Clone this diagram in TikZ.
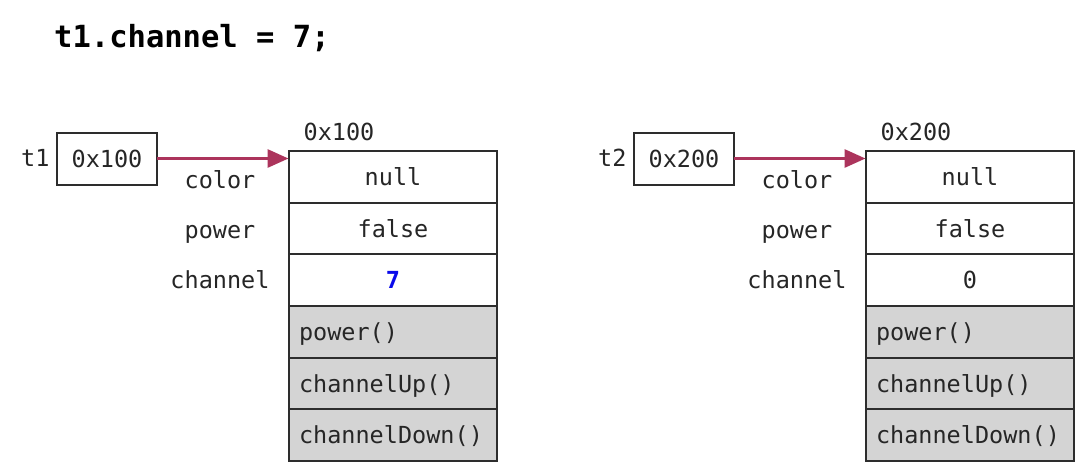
\documentclass[tikz,border=0pt]{standalone}
\usepackage{fontspec}
\setmonofont{DejaVu Sans Mono}
\usetikzlibrary{arrows.meta,positioning}
\definecolor{ptrcol}{RGB}{172,52,92}
\definecolor{cellgray}{RGB}{212,212,212}
\definecolor{edgecol}{RGB}{45,45,45}
\definecolor{valblue}{RGB}{10,10,235}
\tikzset{
  txt/.style={font=\ttfamily\fontsize{23.5}{28}\selectfont, text=black!85, inner sep=0pt, outer sep=0pt, text height=17pt, text depth=0pt},
  cell/.style={txt, draw=edgecol, line width=2pt, minimum width=208pt, minimum height=51.67pt, fill=white},
  mcell/.style={cell, fill=cellgray, text width=188pt, inner xsep=10pt, align=left},
  ptrbox/.style={txt, draw=edgecol, line width=2pt, minimum width=100pt, minimum height=52pt},
  ptrarrow/.style={draw=ptrcol, line width=3pt, -{Triangle[length=21pt,width=18pt]}, shorten >=0.5pt},
}
\newcommand{\memobject}[5]{%
  % #1 prefix, #2 xshift, #3 var, #4 address, #5 channel value
  \begin{scope}[xshift=#2]
    \node[cell, anchor=north west] (#1c) at (289,151) {null};
    \node[cell, anchor=north] (#1p) at (#1c.south) {false};
    \node[cell, anchor=north] (#1h) at (#1p.south) {#5};
    \node[mcell, anchor=north] (#1m1) at (#1h.south) {power()};
    \node[mcell, anchor=north] (#1m2) at (#1m1.south) {channelUp()};
    \node[mcell, anchor=north] (#1m3) at (#1m2.south) {channelDown()};
    \node[txt] (#1addr) at (339,132) {#4};
    \node[txt] (#1lc) at (220,179.5) {color};
    \node[txt] (#1lp) at (220,229.5) {power};
    \node[txt] (#1lh) at (220,279.5) {channel};
    \node[ptrbox] (#1v) at (107,158.5) {#4};
    \node[txt, anchor=east] (#1n) at (49.5,157.5) {#3};
    \draw[ptrarrow] (#1v.east) -- (#1c.west |- #1v.east);
  \end{scope}}
\begin{document}
\begin{tikzpicture}[x=1pt,y=-1pt]
  \useasboundingbox[fill=white] (0,0) rectangle (1084,469);
  \node[anchor=west, inner sep=0pt, font=\ttfamily\bfseries\fontsize{30.5}{36}\selectfont] (title) at (54,38) {t1.channel = 7;};
  \memobject{a}{0pt}{t1}{0x100}{\textcolor{valblue}{\bfseries 7}}
  \memobject{b}{577pt}{t2}{0x200}{0}
\end{tikzpicture}
\end{document}
